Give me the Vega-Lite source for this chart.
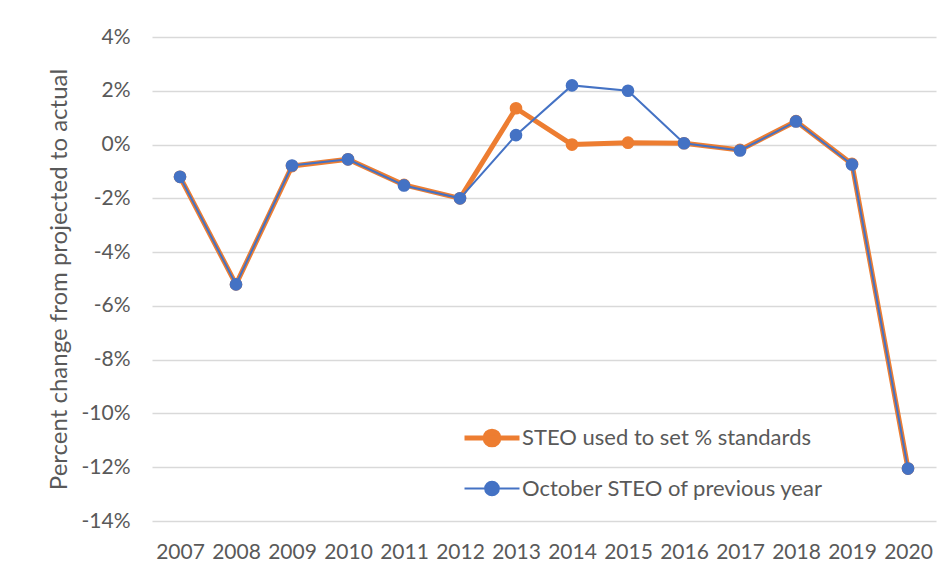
{
  "$schema": "https://vega.github.io/schema/vega-lite/v6.json",
  "width": 784,
  "height": 484,
  "autosize": {"type": "none"},
  "padding": {"left": 152, "top": 37, "right": 16, "bottom": 57},
  "background": "white",
  "config": {
    "view": {"stroke": null},
    "font": "Lato",
    "axis": {"labelColor": "#595959", "titleColor": "#595959", "labelFont": "Lato", "titleFont": "Lato", "labelFontWeight": "normal", "titleFontWeight": "normal"},
    "legend": {"labelColor": "#595959", "labelFont": "Lato"}
  },
  "data": {
    "values": [
      {"year": "2007", "series": "STEO used to set % standards", "value": -1.2},
      {"year": "2008", "series": "STEO used to set % standards", "value": -5.2},
      {"year": "2009", "series": "STEO used to set % standards", "value": -0.8},
      {"year": "2010", "series": "STEO used to set % standards", "value": -0.55},
      {"year": "2011", "series": "STEO used to set % standards", "value": -1.5},
      {"year": "2012", "series": "STEO used to set % standards", "value": -2.0},
      {"year": "2013", "series": "STEO used to set % standards", "value": 1.35},
      {"year": "2014", "series": "STEO used to set % standards", "value": 0.0},
      {"year": "2015", "series": "STEO used to set % standards", "value": 0.07},
      {"year": "2016", "series": "STEO used to set % standards", "value": 0.05},
      {"year": "2017", "series": "STEO used to set % standards", "value": -0.2},
      {"year": "2018", "series": "STEO used to set % standards", "value": 0.87},
      {"year": "2019", "series": "STEO used to set % standards", "value": -0.72},
      {"year": "2020", "series": "STEO used to set % standards", "value": -12.05},
      {"year": "2007", "series": "October STEO of previous year", "value": -1.2},
      {"year": "2008", "series": "October STEO of previous year", "value": -5.2},
      {"year": "2009", "series": "October STEO of previous year", "value": -0.78},
      {"year": "2010", "series": "October STEO of previous year", "value": -0.55},
      {"year": "2011", "series": "October STEO of previous year", "value": -1.52},
      {"year": "2012", "series": "October STEO of previous year", "value": -2.0},
      {"year": "2013", "series": "October STEO of previous year", "value": 0.35},
      {"year": "2014", "series": "October STEO of previous year", "value": 2.2},
      {"year": "2015", "series": "October STEO of previous year", "value": 2.0},
      {"year": "2016", "series": "October STEO of previous year", "value": 0.05},
      {"year": "2017", "series": "October STEO of previous year", "value": -0.22},
      {"year": "2018", "series": "October STEO of previous year", "value": 0.86},
      {"year": "2019", "series": "October STEO of previous year", "value": -0.74},
      {"year": "2020", "series": "October STEO of previous year", "value": -12.05}
    ]
  },
  "encoding": {
    "x": {
      "field": "year", "type": "ordinal",
      "scale": {"type": "point", "padding": 0.5},
      "axis": {"title": null, "labelAngle": 0, "domain": false, "ticks": false, "tickSize": 0, "grid": false, "labelPadding": 20, "labelFontSize": 21}
    },
    "y": {
      "field": "value", "type": "quantitative",
      "scale": {"domain": [-14, 4], "nice": false, "zero": false},
      "axis": {
        "title": "Percent change from projected to actual",
        "titleFontSize": 24, "titlePadding": 10,
        "values": [-14, -12, -10, -8, -6, -4, -2, 0, 2, 4],
        "labelExpr": "datum.value + '%'",
        "labelFontSize": 21, "labelPadding": 22,
        "domain": false, "ticks": false, "tickSize": 0,
        "grid": true, "gridColor": "#D9D9D9", "gridWidth": 1.3
      }
    },
    "color": {
      "field": "series", "type": "nominal",
      "scale": {"domain": ["STEO used to set % standards", "October STEO of previous year"], "range": ["#ED7D31", "#4472C4"]},
      "legend": {
        "title": null, "orient": "none", "legendX": 329, "legendY": 390,
        "direction": "vertical",
        "symbolType": "M-2,0H2M0.5,0A0.5,0.5,0,1,1,-0.5,0A0.5,0.5,0,1,1,0.5,0Z",
        "symbolSize": 756,
        "labelFontSize": 22, "labelOffset": 19, "rowPadding": 22.5, "padding": 0,
        "labelLimit": 400,
        "encode": {
          "symbols": {"update": {
            "fill": {"scale": "color", "field": "value"},
            "stroke": {"scale": "color", "field": "value"},
            "strokeWidth": {"signal": "datum.value === 'STEO used to set % standards' ? 5 : 2"},
            "opacity": {"value": 1}
          }}
        }
      }
    }
  },
  "layer": [
    {
      "transform": [{"filter": "datum.series === 'STEO used to set % standards'"}],
      "mark": {"type": "line", "strokeWidth": 5, "strokeJoin": "round"}
    },
    {
      "transform": [{"filter": "datum.series === 'STEO used to set % standards'"}],
      "mark": {"type": "circle", "size": 160, "opacity": 1}
    },
    {
      "transform": [{"filter": "datum.series === 'October STEO of previous year'"}],
      "mark": {"type": "line", "strokeWidth": 2}
    },
    {
      "transform": [{"filter": "datum.series === 'October STEO of previous year'"}],
      "mark": {"type": "circle", "size": 160, "opacity": 1}
    }
  ]
}
